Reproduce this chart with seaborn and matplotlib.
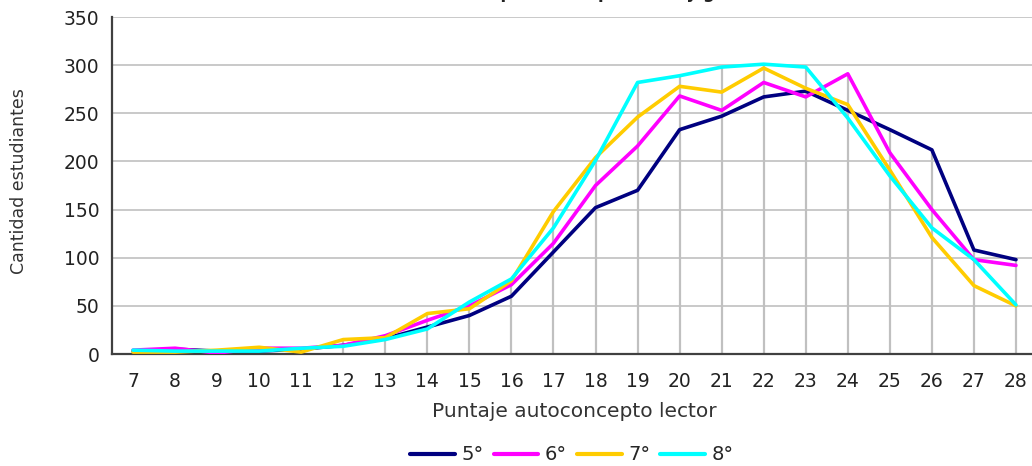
import numpy as np
import pandas as pd
import matplotlib
matplotlib.use("Agg")
import matplotlib.pyplot as plt
import seaborn as sns

# Puntaje autoconcepto lector (7..28)
puntajes = list(range(7, 29))
grados = ["5°", "6°", "7°", "8°"]

quinto = [3, 5, 3, 3, 5, 9, 16, 28, 40, 60, 106, 152, 170, 233, 247, 267, 273, 253, 233, 212, 108, 98]
sexto = [4, 6, 1, 6, 6, 9, 19, 35, 50, 72, 115, 175, 216, 268, 253, 282, 267, 291, 209, 150, 98, 92]
septimo = [2, 2, 4, 7, 2, 15, 17, 42, 47, 76, 148, 204, 246, 278, 272, 297, 276, 259, 191, 121, 71, 50]
octavo = [4, 3, 3, 3, 6, 8, 15, 26, 54, 78, 131, 201, 282, 289, 298, 301, 298, 245, 185, 131, 98, 51]

colores = ["#000080", "#FF00FF", "#FFCC00", "#00FFFF"]

df = pd.DataFrame({
    "puntaje": puntajes * 4,
    "cantidad": quinto + sexto + septimo + octavo,
    "grado": [g for g in grados for _ in puntajes],
})

sns.set_style("white")
plt.rcParams["font.family"] = ["DejaVu Sans"]

fig = plt.figure(figsize=(10.32, 4.66), dpi=100)
W, H = 1032, 466
ax = fig.add_axes([112 / W, (H - 354) / H, (1037 - 112) / W, (354 - 17) / H])

# drop lines from the highest series down to the axis
maximos = df.groupby("puntaje")["cantidad"].max()
ax.vlines(maximos.index, 0, maximos.values, color="#c0c0c0", lw=1.6, zorder=1)

sns.lineplot(data=df, x="puntaje", y="cantidad", hue="grado", palette=colores,
             linewidth=2.6, ax=ax, legend=False, zorder=3)

ax.set_xlim(6.5, 28.5)
ax.set_ylim(0, 350)
ax.set_yticks(range(0, 351, 50))
ax.yaxis.grid(True, color="#c0c0c0", lw=1.2)
ax.set_axisbelow(True)

ax.set_xticks(puntajes)
ax.set_xticklabels([str(p) for p in puntajes])
ax.set_xticks(np.arange(6.5, 29, 1), minor=True)
ax.tick_params(axis="x", which="major", length=0, pad=13, labelsize=13.5, colors="#222222")
ax.tick_params(axis="x", which="minor", length=5, width=1.2, color="#404040", direction="out")
ax.tick_params(axis="y", length=5, width=1.2, color="#404040", direction="out",
               labelsize=13.5, pad=4, colors="#222222")

for s in ["top", "right"]:
    ax.spines[s].set_visible(False)
for s in ["left", "bottom"]:
    ax.spines[s].set_color("#404040")
    ax.spines[s].set_linewidth(1.6)

ax.set_xlabel("Puntaje autoconcepto lector", fontsize=14.5, color="#333333", labelpad=8)
ax.set_ylabel("Cantidad estudiantes", fontsize=12.5, color="#333333")
ax.yaxis.set_label_coords(-(112 - 28) / (1037 - 112), (354 - 181) / (354 - 17))

handles = [plt.Line2D([], [], color=c, lw=3) for c in colores]
fig.legend(handles, grados, loc="center", bbox_to_anchor=(572 / W, 1 - 455 / H),
           ncol=4, frameon=False, fontsize=14, handlelength=2.3, columnspacing=0.5,
           handletextpad=0.35)

fig.text(580 / W, 1 + 2 / H, "Autoconcepto lector por nivel y grado", ha="center",
         va="baseline", fontsize=12, fontweight="bold", color="#222222")

fig.savefig("out.png", dpi=100)
